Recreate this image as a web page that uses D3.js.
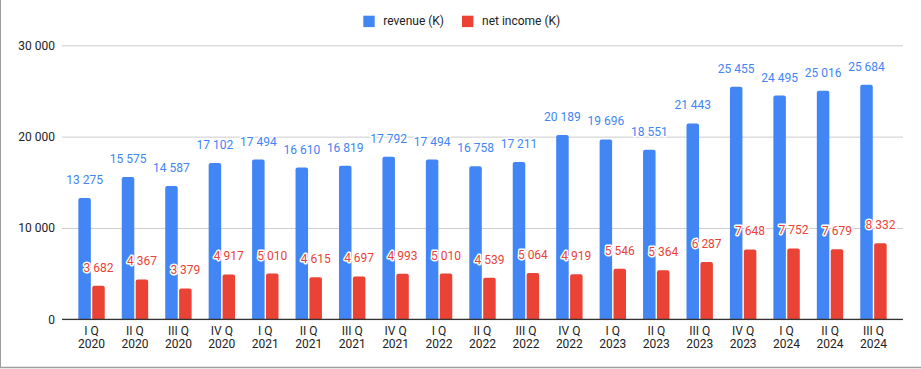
<!DOCTYPE html>
<html><head><meta charset="utf-8">
<script src="https://cdn.jsdelivr.net/npm/d3@7"></script>
<style>
html,body{margin:0;padding:0;background:#fff;}
svg{display:block;font-family:Roboto, Arial, sans-serif;}
</style></head>
<body>
<svg id="chart" width="921" height="369"></svg>
<script>
const quarters = ["I Q","II Q","III Q","IV Q","I Q","II Q","III Q","IV Q","I Q","II Q","III Q","IV Q","I Q","II Q","III Q","IV Q","I Q","II Q","III Q"];
const years = ["2020","2020","2020","2020","2021","2021","2021","2021","2022","2022","2022","2022","2023","2023","2023","2023","2024","2024","2024"];
const revenue = [13275,15575,14587,17102,17494,16610,16819,17792,17494,16758,17211,20189,19696,18551,21443,25455,24495,25016,25684];
const netIncome = [3682,4367,3379,4917,5010,4615,4697,4993,5010,4539,5064,4919,5546,5364,6287,7648,7752,7679,8332];
const yTicks = [0,10000,20000,30000];
const seriesNames = ["revenue (K)","net income (K)"];
const colors = ["#4285F4","#EA4335"];

const cats = quarters.map((q,i)=>q+"|"+years[i]);
const svg = d3.select("#chart");
const locale = d3.formatLocale({decimal:".",thousands:" ",grouping:[3],currency:["",""]});
const fmt = locale.format(",d");

const x = d3.scaleBand().domain(cats).range([62,903]).paddingInner(0).paddingOuter(0.18);
const x1 = d3.scaleBand().domain([0,1]).range([0,26.4]).paddingInner(0.1);
const y = d3.scaleLinear().domain([0,30000]).range([319.3,45.3]);
const off = (x.bandwidth()-26.4)/2;

// border
svg.append("line").attr("x1",0.5).attr("x2",0.5).attr("y1",0).attr("y2",368).attr("stroke","#9e9e9e").attr("stroke-width",1);
svg.append("line").attr("x1",0).attr("x2",921).attr("y1",367.5).attr("y2",367.5).attr("stroke","#9e9e9e").attr("stroke-width",1.5);

// gridlines + y labels
const yAxis = d3.axisLeft(y).tickValues(yTicks).tickSize(-841).tickPadding(7).tickFormat(fmt);
const gy = svg.append("g").attr("transform","translate(62,0)").call(yAxis);
gy.select(".domain").remove();
gy.selectAll(".tick line").attr("stroke","#cccccc").attr("stroke-width",1);
gy.selectAll(".tick text").attr("fill","#222").attr("font-size",12).attr("font-family","Roboto, Arial, sans-serif");

function barPath(x0,w,yTop,yBot,r){
  r=Math.min(r,w/2,yBot-yTop);
  return `M${x0},${yBot}V${yTop+r}Q${x0},${yTop} ${x0+r},${yTop}H${x0+w-r}Q${x0+w},${yTop} ${x0+w},${yTop+r}V${yBot}Z`;
}

const series = [revenue, netIncome];
series.forEach((vals,si)=>{
  const g = svg.append("g");
  g.selectAll("path").data(vals).join("path")
    .attr("d",(v,i)=>barPath(x(cats[i])+off+x1(si), x1.bandwidth(), y(v), y(0), 2))
    .attr("fill",colors[si]);
  g.selectAll("text").data(vals).join("text")
    .attr("x",(v,i)=>x(cats[i])+off+x1(si)+x1.bandwidth()/2)
    .attr("y",v=>y(v)-14)
    .attr("text-anchor","middle")
    .attr("font-size",12)
    .attr("fill",colors[si])
    .attr("stroke","#fff").attr("stroke-width",3).attr("stroke-linejoin","round")
    .attr("paint-order","stroke")
    .text(v=>fmt(v));
});

// x axis line
svg.append("line").attr("x1",62).attr("x2",903).attr("y1",y(0)).attr("y2",y(0)).attr("stroke","#333").attr("stroke-width",1.2);

// x labels
const xl = svg.append("g").selectAll("text").data(cats).join("text")
  .attr("x",d=>x(d)+x.bandwidth()/2)
  .attr("text-anchor","middle").attr("font-size",12).attr("fill","#222");
xl.append("tspan").attr("x",d=>x(d)+x.bandwidth()/2).attr("y",334.5).text((d,i)=>quarters[i]);
xl.append("tspan").attr("x",d=>x(d)+x.bandwidth()/2).attr("y",347.5).text((d,i)=>years[i]);

// legend
const legX = [363.3, 462];
seriesNames.forEach((n,i)=>{
  svg.append("rect").attr("x",legX[i]).attr("y",15.7).attr("width",11.4).attr("height",11.4).attr("fill",colors[i]);
  svg.append("text").attr("x",legX[i]+20).attr("y",25).attr("font-size",12).attr("fill","#222").text(n);
});
</script>
</body></html>
